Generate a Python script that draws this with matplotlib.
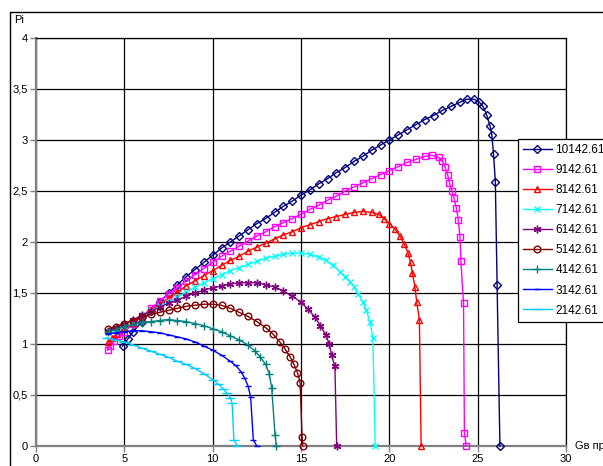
import matplotlib
matplotlib.use("Agg")
import matplotlib.pyplot as plt
from matplotlib.patches import Rectangle

plt.rcParams['font.family'] = ['Liberation Sans', 'DejaVu Sans']

# values
labels = ['10142.61', '9142.61', '8142.61', '7142.61', '6142.61',
          '5142.61', '4142.61', '3142.61', '2142.61']

x_10142 = [4.9, 5.2, 5.5, 6.0, 6.5, 7.0, 7.5, 8.0, 8.5, 9.0, 9.5, 10.0, 10.5, 11.0,
           11.5, 12.0, 12.5, 13.0, 13.5, 14.0, 14.5, 15.0, 15.5, 16.0, 16.5, 17.0,
           17.5, 18.0, 18.5, 19.0, 19.5, 20.0, 20.5, 21.0, 21.5, 22.0, 22.5, 23.0,
           23.5, 24.0, 24.4, 24.8, 25.1, 25.3, 25.5, 25.7, 25.8, 25.9, 26.0, 26.1, 26.26]
y_10142 = [0.98, 1.05, 1.12, 1.22, 1.32, 1.41, 1.50, 1.58, 1.66, 1.73, 1.80, 1.87, 1.94,
           2.00, 2.06, 2.12, 2.18, 2.23, 2.29, 2.35, 2.40, 2.46, 2.51, 2.57, 2.62, 2.68,
           2.73, 2.79, 2.84, 2.90, 2.95, 3.00, 3.05, 3.10, 3.15, 3.20, 3.24, 3.29, 3.33,
           3.37, 3.40, 3.40, 3.37, 3.33, 3.25, 3.14, 3.05, 2.86, 2.59, 1.58, 0.0]

x_9142 = [4.05, 4.2, 4.4, 4.7, 5.0, 5.5, 6.0, 6.5, 7.0, 7.5, 8.0, 8.5, 9.0, 9.5, 10.0,
          10.5, 11.0, 11.5, 12.0, 12.5, 13.0, 13.5, 14.0, 14.5, 15.0, 15.5, 16.0, 16.5,
          17.0, 17.5, 18.0, 18.5, 19.0, 19.5, 20.0, 20.5, 21.0, 21.5, 22.0, 22.4, 22.8,
          23.0, 23.15, 23.3, 23.4, 23.55, 23.66, 23.8, 23.9, 24.0, 24.05, 24.2, 24.25, 24.35]
y_9142 = [0.94, 0.98, 1.03, 1.08, 1.12, 1.20, 1.27, 1.35, 1.42, 1.49, 1.55, 1.62, 1.68,
          1.74, 1.80, 1.86, 1.91, 1.96, 2.01, 2.06, 2.10, 2.15, 2.19, 2.23, 2.27, 2.32,
          2.36, 2.41, 2.45, 2.50, 2.54, 2.58, 2.62, 2.66, 2.70, 2.74, 2.78, 2.81, 2.84,
          2.85, 2.83, 2.79, 2.74, 2.66, 2.58, 2.50, 2.43, 2.33, 2.22, 2.05, 1.81, 1.40,
          0.13, 0.0]

x_8142 = [4.1, 4.3, 4.6, 5.0, 5.5, 6.0, 6.5, 7.0, 7.5, 8.0, 8.5, 9.0, 9.5, 10.0, 10.5,
          11.0, 11.5, 12.0, 12.5, 13.0, 13.5, 14.0, 14.5, 15.0, 15.5, 16.0, 16.5, 17.0,
          17.5, 18.0, 18.5, 19.0, 19.4, 19.7, 20.0, 20.3, 20.6, 20.85, 21.06, 21.2, 21.3,
          21.45, 21.55, 21.7, 21.8]
y_8142 = [1.02, 1.06, 1.10, 1.15, 1.21, 1.27, 1.33, 1.39, 1.45, 1.51, 1.57, 1.62, 1.67,
          1.72, 1.77, 1.82, 1.86, 1.91, 1.95, 1.99, 2.03, 2.07, 2.10, 2.14, 2.17, 2.20,
          2.23, 2.25, 2.27, 2.29, 2.30, 2.29, 2.27, 2.23, 2.18, 2.13, 2.06, 1.98, 1.89,
          1.80, 1.70, 1.56, 1.41, 1.24, 0.0]

x_7142 = [4.1, 4.5, 5.0, 5.5, 6.0, 6.5, 7.0, 7.5, 8.0, 8.5, 9.0, 9.5, 10.0, 10.5, 11.0,
          11.5, 12.0, 12.5, 13.0, 13.5, 14.0, 14.5, 15.0, 15.5, 16.0, 16.4, 16.8, 17.2,
          17.5, 17.8, 18.0, 18.25, 18.5, 18.7, 18.9, 19.07, 19.2]
y_7142 = [1.12, 1.15, 1.19, 1.23, 1.28, 1.32, 1.37, 1.41, 1.46, 1.51, 1.56, 1.60, 1.64,
          1.68, 1.72, 1.75, 1.78, 1.81, 1.84, 1.86, 1.88, 1.89, 1.89, 1.88, 1.85, 1.82,
          1.77, 1.71, 1.66, 1.61, 1.56, 1.49, 1.41, 1.33, 1.22, 1.06, 0.0]

x_6142 = [4.1, 4.5, 5.0, 5.5, 6.0, 6.5, 7.0, 7.5, 8.0, 8.5, 9.0, 9.5, 10.0, 10.5, 11.0,
          11.5, 12.0, 12.5, 13.0, 13.5, 14.0, 14.5, 15.0, 15.4, 15.8, 16.1, 16.4, 16.6,
          16.73, 16.92, 17.02]
y_6142 = [1.13, 1.16, 1.20, 1.24, 1.28, 1.32, 1.36, 1.40, 1.43, 1.47, 1.50, 1.53, 1.55,
          1.57, 1.59, 1.60, 1.60, 1.60, 1.58, 1.56, 1.52, 1.47, 1.41, 1.34, 1.26, 1.18,
          1.09, 1.00, 0.89, 0.78, 0.0]

x_5142 = [4.1, 4.5, 5.0, 5.5, 6.0, 6.5, 7.0, 7.5, 8.0, 8.5, 9.0, 9.5, 10.0, 10.5, 11.0,
          11.5, 12.0, 12.5, 13.0, 13.4, 13.8, 14.1, 14.4, 14.6, 14.8, 14.95, 15.06, 15.1]
y_5142 = [1.15, 1.17, 1.20, 1.23, 1.26, 1.29, 1.31, 1.33, 1.35, 1.37, 1.38, 1.39, 1.39,
          1.38, 1.35, 1.31, 1.27, 1.22, 1.16, 1.10, 1.02, 0.95, 0.87, 0.80, 0.72, 0.62,
          0.09, 0.0]

x_4142 = [4.1, 4.5, 5.0, 5.5, 6.0, 6.5, 7.0, 7.5, 8.0, 8.5, 9.0, 9.5, 10.0, 10.5, 11.0,
          11.5, 12.0, 12.4, 12.7, 13.0, 13.2, 13.34, 13.53, 13.6]
y_4142 = [1.12, 1.14, 1.17, 1.19, 1.21, 1.22, 1.23, 1.24, 1.23, 1.22, 1.20, 1.18, 1.15,
          1.12, 1.08, 1.04, 0.99, 0.93, 0.87, 0.80, 0.71, 0.57, 0.11, 0.0]

x_3142 = [4.1, 4.5, 5.0, 5.5, 6.0, 6.5, 7.0, 7.5, 8.0, 8.5, 9.0, 9.5, 10.0, 10.5, 11.0,
          11.3, 11.6, 11.8, 12.0, 12.15, 12.3, 12.5]
y_3142 = [1.10, 1.11, 1.12, 1.13, 1.13, 1.12, 1.11, 1.09, 1.07, 1.05, 1.02, 0.98, 0.94,
          0.89, 0.83, 0.79, 0.73, 0.67, 0.59, 0.48, 0.06, 0.0]

x_2142 = [4.0, 4.5, 5.0, 5.5, 6.0, 6.5, 7.0, 7.5, 8.0, 8.5, 9.0, 9.5, 10.0, 10.3, 10.6,
          10.8, 11.0, 11.1, 11.2, 11.4]
y_2142 = [1.06, 1.04, 1.02, 0.99, 0.96, 0.93, 0.90, 0.87, 0.83, 0.80, 0.76, 0.71, 0.65,
          0.61, 0.56, 0.52, 0.47, 0.42, 0.06, 0.0]

xs = [x_10142, x_9142, x_8142, x_7142, x_6142, x_5142, x_4142, x_3142, x_2142]
ys = [y_10142, y_9142, y_8142, y_7142, y_6142, y_5142, y_4142, y_3142, y_2142]

x_ticks = [0, 5, 10, 15, 20, 25, 30]
y_ticks = [0, 0.5, 1, 1.5, 2, 2.5, 3, 3.5, 4]
y_ticklabels = ['0', '0,5', '1', '1,5', '2', '2,5', '3', '3,5', '4']

colors = ['#000080', '#FF00FF', '#FF0000', '#00FFFF', '#800080',
          '#800000', '#008080', '#0000FF', '#00CCFF']
markers = ['D', 's', '^', 'x', (6, 2, 0), 'o', '+', '_', '_']
msizes = [4.2, 4.5, 5, 5, 5.5, 4.8, 6, 5, 7]

fig = plt.figure(figsize=(6.03, 4.66), dpi=100)
ax = fig.add_axes([36 / 603, 20 / 466, 530 / 603, 408 / 466])

for x, y, c, m, ms, lab in zip(xs, ys, colors, markers, msizes, labels):
    ax.plot(x, y, color=c, lw=1.0, marker=m, ms=ms, mfc='none', mec=c,
            mew=1.0, label=lab, clip_on=False, zorder=3)

ax.set_xlim(0, 30)
ax.set_ylim(0, 4)
ax.set_xticks(x_ticks)
ax.set_xticklabels([str(t) for t in x_ticks])
ax.set_yticks(y_ticks)
ax.set_yticklabels(y_ticklabels)
ax.tick_params(labelsize=8, direction='out', length=4, width=1, color='#808080', pad=2)
ax.tick_params(axis='x', pad=2)
ax.grid(True, color='black', lw=0.9)
ax.set_axisbelow(True)
for s in ['left', 'bottom']:
    ax.spines[s].set_color('#808080')
    ax.spines[s].set_linewidth(1.6)
for s in ['top', 'right']:
    ax.spines[s].set_color('black')
    ax.spines[s].set_linewidth(0.9)

fig.text(14 / 603, 1 - 20 / 466, 'Pi', fontsize=8, va='center', ha='left')
fig.text(575 / 603, 1 - 446 / 466, 'Gв пр', fontsize=8, va='center', ha='left')

leg = fig.legend(loc='upper left', bbox_to_anchor=(518 / 603, 1 - 139 / 466),
                 borderaxespad=0, fontsize=8.5, frameon=True, fancybox=False,
                 edgecolor='black', framealpha=1, handlelength=2.4,
                 handletextpad=0.3, labelspacing=0.68, borderpad=0.45)
leg.get_frame().set_linewidth(0.9)

fig.patches.append(Rectangle((9.5 / 603, -0.1), 1.2, 0.1 + 1 - 12 / 466,
                             transform=fig.transFigure, fill=False,
                             edgecolor='black', lw=1.0))

fig.savefig('out.png', dpi=100)
